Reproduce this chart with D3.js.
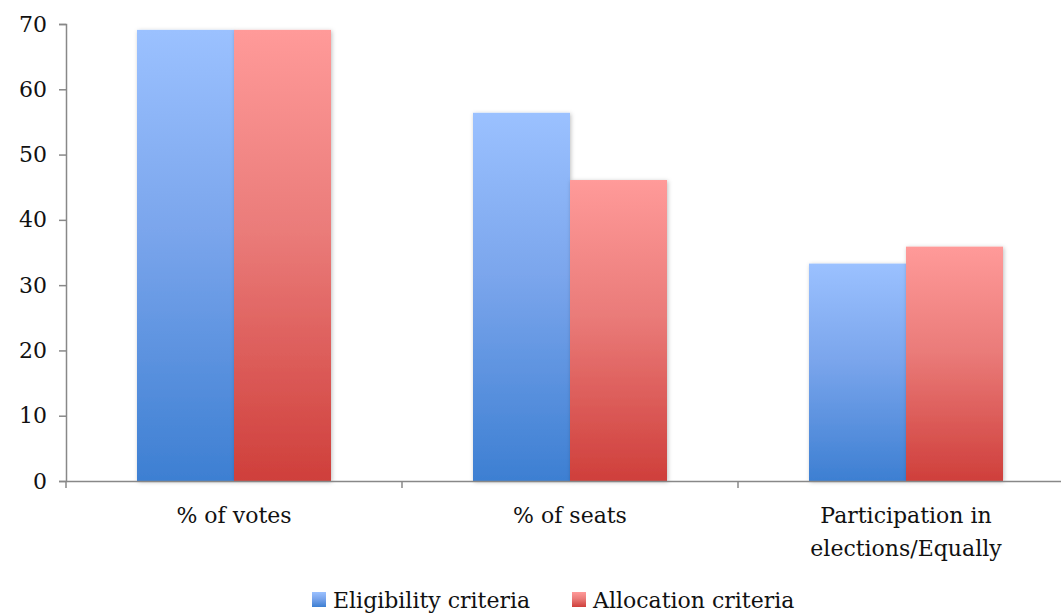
<!DOCTYPE html>
<html>
<head>
<meta charset="utf-8">
<script src="https://cdn.jsdelivr.net/npm/d3@7"></script>
<style>
  body { margin: 0; background: #fff; }
  svg text { font-family: "DejaVu Serif", serif; fill: #111; }
</style>
</head>
<body>
<div id="container"></div>
<script>
const width = 1061;
const height = 614;

const categories = ['% of votes', '% of seats', 'Participation in\nelections/Equally'];
const seriesNames = ['Eligibility criteria', 'Allocation criteria'];
const eligibility = [69.1, 56.4, 33.3];
const allocation = [69.1, 46.1, 35.9];
const yTicks = [0, 10, 20, 30, 40, 50, 60, 70];

const plotLeft = 66, plotRight = 1074, plotTop = 24, plotBottom = 481;
const fontSize = 22;

const svg = d3.select('#container')
    .append('svg')
    .attr('width', width)
    .attr('height', height);

const defs = svg.append('defs');
const grads = [
    {id: 'gBlue', top: '#9bc1ff', mid: '#7aa5ec', bottom: '#3d7fd2'},
    {id: 'gRed', top: '#ff9a99', mid: '#ea7b79', bottom: '#cf3f3b'}
];
grads.forEach(g => {
    const lg = defs.append('linearGradient')
        .attr('id', g.id)
        .attr('x1', 0).attr('y1', 0).attr('x2', 0).attr('y2', 1);
    lg.append('stop').attr('offset', '0%').attr('stop-color', g.top);
    lg.append('stop').attr('offset', '45%').attr('stop-color', g.mid);
    lg.append('stop').attr('offset', '100%').attr('stop-color', g.bottom);
});
defs.append('filter')
    .attr('id', 'shadow')
    .attr('x', '-10%').attr('y', '-10%').attr('width', '130%').attr('height', '130%')
    .append('feDropShadow')
    .attr('dx', 1).attr('dy', 1).attr('stdDeviation', 2)
    .attr('flood-color', '#000').attr('flood-opacity', 0.25);

const xScale = d3.scaleBand()
    .domain(categories)
    .range([plotLeft, plotRight])
    .padding(0);
const inner = d3.scaleBand()
    .domain(seriesNames)
    .range([71, 265]);
const yScale = d3.scaleLinear()
    .domain([0, 70])
    .range([plotBottom, plotTop]);

const colors = ['url(#gBlue)', 'url(#gRed)'];
const series = [eligibility, allocation];

series.forEach((vals, si) => {
    svg.append('g')
        .selectAll('rect')
        .data(vals)
        .enter()
        .append('rect')
        .attr('x', (d, i) => xScale(categories[i]) + inner(seriesNames[si]))
        .attr('y', d => yScale(d))
        .attr('width', inner.bandwidth())
        .attr('height', d => plotBottom - yScale(d))
        .attr('fill', colors[si])
        .attr('filter', 'url(#shadow)');
});

// Axes
const yAxis = d3.axisLeft(yScale).tickValues(yTicks).tickSize(7).tickPadding(12);
const gy = svg.append('g')
    .attr('transform', 'translate(' + plotLeft + ',0)')
    .call(yAxis);
gy.selectAll('path, line').attr('stroke', '#888').attr('stroke-width', 1.5);
gy.selectAll('text').attr('font-size', fontSize).attr('font-family', 'DejaVu Serif').attr('fill', '#111');

const xAxis = d3.axisBottom(xScale).tickSize(7).tickSizeOuter(0).tickFormat('');
const gx = svg.append('g')
    .attr('transform', 'translate(0,' + plotBottom + ')')
    .call(xAxis);
gx.select('path').attr('stroke', '#888').attr('stroke-width', 1.5);
gx.selectAll('.tick line')
    .attr('stroke', '#888').attr('stroke-width', 1.5)
    .attr('transform', d => 'translate(' + (-xScale.bandwidth() / 2) + ',0)');

// Category labels
categories.forEach(c => {
    const lines = c.split('\n');
    const t = svg.append('text')
        .attr('text-anchor', 'middle')
        .attr('font-size', fontSize)
        .attr('x', xScale(c) + xScale.bandwidth() / 2)
        .attr('y', 523);
    lines.forEach((l, i) => {
        t.append('tspan')
            .attr('x', xScale(c) + xScale.bandwidth() / 2)
            .attr('dy', i === 0 ? 0 : 33)
            .text(l);
    });
});

// Legend
const legendX = [312, 572];
const legend = svg.append('g');
seriesNames.forEach((name, i) => {
    legend.append('rect')
        .attr('x', legendX[i]).attr('y', 592)
        .attr('width', 14).attr('height', 15)
        .attr('fill', colors[i]);
    legend.append('text')
        .attr('x', legendX[i] + 21).attr('y', 608)
        .attr('font-size', fontSize)
        .text(name);
});
</script>
</body>
</html>
